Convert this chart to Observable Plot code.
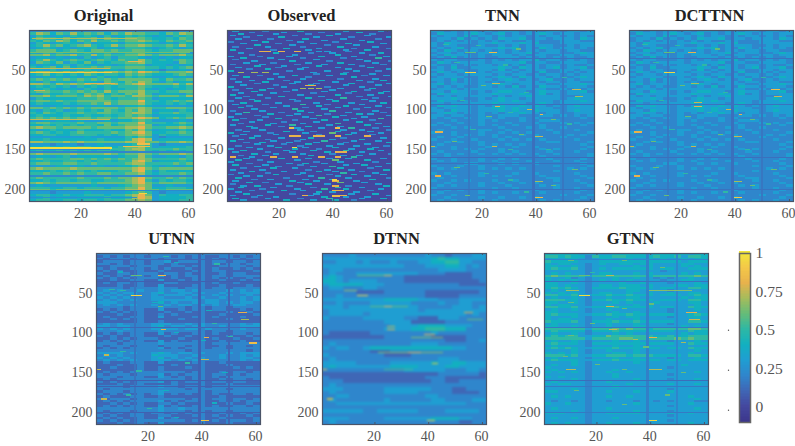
<!DOCTYPE html>
<html><head><meta charset="utf-8">
<script src="https://cdn.jsdelivr.net/npm/d3@7"></script>
<script src="https://cdn.jsdelivr.net/npm/@observablehq/plot@0.6"></script>
<style>html,body{margin:0;background:#fff}#fig{position:relative;width:795px;height:446px;overflow:hidden}#fig svg{position:absolute;background:transparent;overflow:visible}</style>
</head><body><div id="fig"></div>
<script>
const colorStops=[-0.1,0,0.1,0.2,0.3,0.4,0.5,0.6,0.7,0.8,0.9,1];
const colorRange=["#3c378c","#44489f","#3f67b6","#2f86cc","#1f9ed2","#12b0c0","#2eb8a4","#66bc78","#a4bc5c","#e8b24c","#f4c848","#f2e63c"];
const xTicks=[20,40,60], yTicks=[50,100,150,200], barTicks=[0,0.25,0.5,0.75,1];
const strayMarks=[0.5,0.24,-0.02];
const originalGrid=[
"343434334343343434334343","576465756564657665546576","354343545435345454343545","465546455646546665445465",
"546576465755656676546556","354345435344435554434354","457564567545756676556575","345434344534435554345434",
"566645654665655665455666","435354345345345564344353","667566755756556676566675","344343435345355543434344",
"457545654565465575454565","365463546354556675444365","434345354434345553443434","545646455656556665545456",
"343534345434435454323343","677667676767767687656667","456454546545546565444565","334343434353435454334343",
"565656565656566666546556","435344354436546576435344","776576767676756786666757","454545354545455565444545",
"345434435435445564343445","566556565657566675545566","435445546564546575344435","667566657675665776566657",
"354444455565455565344444","566565566666566685545656","454445455657566675445454","333343334343334454333333",
"665656565666656676556665","435453454546546576344354","546545565566556776455655","454445445445456565344445",
"565656566566566787645656","334344343334344565333343","566555565566566685554565","445454545546456676344454",
"676656666566667786556676","434544354445446575344354","565454565555656786445565","445544555545456676354455",
"333333334333335465323333","445444444454445787344444","776667676666667786656676","333233323343334565323333",
"445445455445456675344445","566555656556556775555655","454454545455456675454545","676666766667656676566676",
"344345344444345575334435","565555665656565676555565","445445545455455786344454","566556655655556775555656",
"333344343343344565434334","676666766666666786566666","444545454544455785354444","556556565566556675455565",
"334333343334344465323334","565555565556566786556565","445455455445556785354554","676566666566666786566665",
"343333333433345676334333","555445545554556686445554","666566666666667786656666","333233334333334565323333",
"455445445554556786354455","345344344445445787344445","455445545545556676344455"
];
// each line is two data rows of the Observed panel: column, level, column, level ...
const observedDashes=[
[3,3,14,2,27,4,44,3,57,3],[9,2,21,3,35,2,49,4],[5,4,18,3,30,2,41,3,54,2],[2,3,12,3,25,2,38,4,52,3],
[7,2,20,4,33,3,46,2,60,3],[4,3,16,2,29,4,43,3,56,2],[10,3,23,2,36,3,50,3],[1,2,14,4,27,3,40,2,53,4],
[6,3,19,2,32,3,45,4,58,3],[11,4,24,3,37,2,48,3],[3,2,15,3,28,2,42,4,55,3],[8,3,22,4,34,3,47,2,60,2],
[2,4,17,2,30,3,44,3,52,4],[13,8,15,8,20,8,26,8,34,3,37,3,45,2],[5,3,18,4,31,2,39,3,50,3,57,4],[9,2,25,3,41,4,54,2],
[1,3,12,2,23,3,35,4,47,3,59,3],[6,4,16,3,28,2,43,2,56,5],[3,2,20,3,33,3,49,3],[10,3,24,4,38,2,52,3,61,2],
[7,3,17,2,30,3,42,4,55,3],[2,2,13,3,26,2,36,3,46,3,58,2],[11,4,21,3,34,4,50,2],[4,3,19,2,29,3,41,3,53,4],
[8,2,15,4,27,3,45,3,60,3],[1,4,23,2,37,3,48,3,56,2],[5,7,10,7,14,7,32,3,44,2],[18,3,33,2,43,4,54,3],
[3,3,12,2,25,4,38,3,51,2,59,3],[7,4,20,3,30,2,47,4],[2,2,16,3,28,3,42,2,55,3],[9,3,22,2,35,4,49,3,58,4],
[4,3,14,4,26,3,40,3,53,2],[11,2,24,3,33,2,46,4,60,3],[6,3,18,2,31,4,44,3,56,3],[1,4,21,3,37,2,50,3],
[8,3,16,3,28,7,31,7,34,7,42,3,54,4],[3,2,13,4,25,3,39,3,52,2],[10,4,22,2,36,3,47,4,59,3],[5,3,17,3,32,2,45,2,57,4],
[2,4,12,3,27,3,41,4,53,3],[7,2,20,4,35,3,49,2,61,3],[4,3,15,2,30,4,43,5,55,2],[9,3,24,3,38,3,51,3],
[1,2,11,4,26,2,40,4,54,3],[6,4,19,3,33,3,46,3,58,4],[3,3,14,2,28,5,37,2,50,3],[8,2,22,3,34,4,44,4,56,3],
[5,4,17,3,29,2,41,3,52,3,60,2],[10,3,25,5,36,3,48,2],[2,2,13,3,27,4,39,5,55,3],[7,5,20,2,31,3,45,3,58,2],
[4,3,16,4,26,3,37,2,49,4,53,3],[11,2,23,3,34,5,43,3,60,3],[1,3,14,2,29,3,40,4,51,3],[6,2,19,4,32,3,47,3,57,5],
[3,4,12,3,25,2,36,4,44,3,54,2],[9,3,21,2,33,3,49,4],[5,2,17,3,28,3,41,5,56,3],[2,3,15,4,24,5,38,3,52,4],
[8,4,20,2,30,4,42,3,59,3],[10,3,26,3,35,3,46,5,55,2],[4,2,13,3,27,3,43,3,50,3,60,2],[7,3,22,4,32,2,41,4,53,3],
[1,4,16,2,29,3,39,6,47,3,57,3],[6,3,18,3,34,2,45,4,54,2],[3,2,11,3,24,8,26,8,33,8,35,8,41,8,52,8],[9,4,20,3,31,4,43,2,58,3],
[5,3,15,2,28,3,39,3,50,4],[2,4,17,3,26,2,36,5,47,3,56,3],[7,2,13,4,23,3,33,3,44,2,60,4],[11,3,21,2,30,4,42,3,52,3],
[4,2,16,3,27,2,38,3,48,3,59,2],[8,3,19,4,29,3,40,4,55,3],[1,3,12,3,25,4,34,2,46,3,53,4],[6,4,22,3,32,4,44,5,57,3],
[3,3,15,2,24,3,37,4,41,8,43,8,50,3],[10,4,18,3,28,3,39,2,54,3,61,2],[5,2,14,3,31,4,43,3,49,3],[2,8,9,3,17,8,25,8,35,8,41,8,47,5],
[7,3,20,4,30,3,38,3,45,3,58,3],[4,4,12,2,26,3,40,6,52,4],[1,3,16,3,33,2,42,3,55,2],[8,2,23,3,29,4,36,3,48,3,60,3],
[3,4,14,3,27,2,44,3,51,4],[11,3,19,2,32,3,39,5,56,3],[6,2,17,4,25,3,42,4,53,2],[2,3,13,3,30,2,37,3,46,3,59,4],
[9,4,21,3,34,4,40,3,50,2],[5,3,15,2,28,3,43,5,55,3],[1,2,18,4,26,3,38,2,47,4,58,3],[7,3,12,3,31,3,41,3,52,3],
[4,4,22,2,35,5,45,3,60,2],[10,2,16,3,29,3,39,3,54,4],[3,3,24,4,33,3,40,8,48,3],[8,4,14,2,27,3,42,6,51,3],
[2,2,19,3,30,4,37,3,56,3],[6,3,11,4,23,2,40,8,45,2,59,4],[5,4,17,3,32,2,41,5,50,3],[1,3,13,2,26,3,36,5,44,4,57,3],
[9,2,21,4,28,3,40,8,42,8,53,2],[4,3,16,3,34,4,39,3,48,3],[7,4,24,2,33,3,46,3,55,4],[2,3,12,3,29,8,31,3,41,8,43,8,60,3],
[10,2,18,3,36,4,44,3,52,3],[3,4,15,3,27,2,38,5,50,3,58,4],[6,3,22,4,32,3,40,4,47,2]
];
const tnnGrid=[
"332323323233323323323323","243323432342323343233233","323324233232332323323232","233242323243342332333243",
"232323232323223322233322","324333233433343422233333","323322232232323333223233","232342333343423243233232",
"324323323232323323323322","233232233332334233322343","324333232333232332233233","232423232233323232323223",
"323322232323233423323232","243233332333342332233332","322323233232323323323223","232422333343243323423342",
"332332233242323332233233","243233232333233242232323","323323333232332323323233","233332232343243332322343",
"332423233234323234223233","232323232323333323323322","342333233443233332233343","323232233232423243323332",
"233323333333333332232323","332433232344332343323342","243333233433343342323333","323233333232334333322233",
"333432232343323333323433","243323233343433333233343","332333333433332343233333","243433232343343432323433",
"323333233443433333223333","332433233343433433323433","234323232323343323322333","332332232233322233232323",
"323223233232232322222232","222322232322232233322222","232232232223222322232323","323222232322322232222232",
"222323222232223232232222","232222233223222223222322","322322232232323222322223","222323232322232322223232",
"232232222323222322232222","322322322232323232222322","223232232222222223322223","232222232323232222222232",
"322322223222322322222223","222323232232222232322232","232222322232322223222322","323232232323232322322223",
"223222222222222232222223","322322232232322223222232","232322232322223222322322","222223322232322322222232",
"322232232222222222322223","232322232323232222223232","222222222222222222322222","323222232222322322222322",
"222322232323222232222232","232222222222222223322223","322323222322322222322322","223222232232232322222232",
"232322232223222232322223","322222222322322222322322","223232232222222322222232","232222232322322232222322",
"322322222222222222232223","223222232232232322222232","232322222322222232322322"
];
const dctGrid=tnnGrid;
const utnnGrid=[
"222222222222222222222222","121212212221212211221212","212221222122212212122122","122212212231222212212212",
"221212212212111212122122","112221222112212211222212","212112212121121212112121","121211211211112212211112",
"211221222122121211212211","121212212312122212212222","212121222112112212121121","112112211311212211211212",
"121221211122111212112111","111211211311112211211121","222212222322122212212222","232322322323323222232323",
"323233223422332322322333","232323223233323223232232","323232223322232322322323","232323223333333233222323",
"333222222423223233232332","232323223232332323223322","222212222322212212212222","121212211311212212211212",
"212121211121121211121121","111211211212111211211112","121112211311112212111211","112121211111211211121111",
"111111211211111211111111","232322223332232322222323","332332223423323322322333","323232223333233232222322",
"222322222322222212212222","121212211312112212112212","212112211121121211121121","112121222111211212112112",
"121212211312112211211211","222122222322222212222222","212221222122212211212212","121212222312122212212222",
"222222222222212222222212","333323223432332322232333","232322223333223222322323","323232223423232322322332",
"232323223332323222222323","121112211311112211211111","111211211112111211121111","112111211211121211112121",
"111111211211111211111111","121212222222212211212212","212221222312122212212122","222122211321212212122222",
"121222222222212211212212","212121222312122212212211","111211211112111211121111","222212222322122212222222",
"212222222222212222212222","122212222322222212222222","212121212312121212112212","121112211211111211211111",
"212221222222212212212212","121212222312122211212122","112121211221211211121121","121212211312112212112212",
"222222222322322222222222","212221222322212212212222","121212212212121211211212","212112211221112212121121",
"121211211312111211211112","212121222222212212122212","111211211311111211121111"
];
const dtnnGrid=[
"222232222222222322122233","333333333333333345443333","223332322232223344553322","333333333333222333443232",
"233222222222222223333222","232223333333332222111122","343222222222111111111122","443233332222111111111112",
"344444333222222222221111","233222332222222222222222","222221111222222111111112","223222222222222111112222",
"333333333444443332223333","223222233333322223223322","333233333333332222233323","233333333333332333333333",
"233333233333333333333232","322222333333221113332222","222222222333311111222222","222222222233334444333322",
"222222222333344555444222","211111122222222232222222","111111111222222211111222","222222222222222222111223",
"232222222222233332222222","323322344444444444433222","222222211122222222222222","322222222111122222222222",
"232222222222222223332222","333332222233333343344333","343333333344443333443333","222222222222333333222332",
"111111111111111112222221","211111111111111222111111","222111111111111122112222","232222222222222222222222",
"333222222333333322211222","232222222333332222211112","223322222222222332222222","232222222322222233222233",
"223333333333333333333222","222222222222222222222222","333333223333332222333332","222222222222222222222222",
"333322222333333344443322","232222222222222222221122"
];
const gtnnGrid=[
"444443333344444344444344","554544254455444454453554","343443234433433434334344","544443334444444444443444",
"434433234334434433334433","443343233333343433334343","454453234344444434433444","333333233333333332333333",
"343433234433343433334343","565555355555555455555565","433423233343343323233433","434343234343433332334433",
"443343233334334333233343","443433234434443433344344","454543244445444434433554","343433233333443333233333",
"434343234433433433433443","554453344544544434443454","343343233433443333334344","555443244544544434443554",
"443343233343433343333443","434433233433343433333343","554453344454444434433544","343343233433333333233343",
"443333233343343333233333","454443344544544444433454","433343233343443333233443","434433233433343333333343",
"544453244454454444433554","343333233433343333233333","443343233433344333334343","555555355565655455555665",
"454444244454444444433544","343343233343433333334344","454553344555555544544555","555555355556655555565655",
"343343233343343333233343","454443244444444444433544","343333233343343333333333","454543344454444443443544",
"333343233433343333333343","434343233344343333333433","555453344555455544443554","343333233343343333233343",
"454443344454444443443444","333343233333343333333333","343343233333333333334333","433333233333333333233333",
"343333233343333333333333","434343233433433333333343","333333233343333333233333","434333233343333333333333",
"333343233333343333233343","343333233433333333333333","434433233333433333433343","333333233343333333333333",
"333343233333333333233333","443333233433343333433333","333333233333333333333333","343433233433433333333433",
"333333233333333333333343","323323233233323323233322","433433233333343333333433","333333233333333333233333",
"343333233433333333333343","333343233333343333233333","444333233444443333433433","333333233333333333233333",
"343343233343333333333333","333333233333333333233333","343433233433343333333433"
];
// streaks: data row, first column, last column, value
const originalStreaks=[[147,1,31,1],[148,1,31,0.98],[54,1,31,0.92],[48,1,30,0.75],[29,1,60,0.62],[11,2,40,0.72],[2,1,61,0.25],[153,1,61,0.2],[183,1,61,0.22],[201,1,61,0.22],[210,1,40,0.25],[146,36,45,0.85],[143,41,45,0.85],[76,3,6,0.75],[40,38,42,0.8],[205,42,44,0.95],[112,1,30,0.75],[67,22,32,0.8],[150,1,30,0.2]];
const observedStreaks=[[123,24,25,0.85],[123,41,42,0.85],[147,25,26,0.95],[70,30,33,0.8],[208,40,42,0.85],[188,40,41,0.95]];
const tnnStreaks=[[29,23,25,0.85],[29,14,17,0.6],[54,14,17,0.95],[67,24,26,0.75],[84,55,57,0.7],[96,25,26,0.8],[106,42,42,0.85],[128,3,5,0.8],[134,40,42,0.75],[146,24,25,0.75],[146,1,2,0.75],[210,40,42,0.85],[190,40,42,0.7],[183,3,4,0.8],[36,1,61,0.13],[93,1,61,0.13],[160,1,61,0.12],[167,1,61,0.14],[200,1,61,0.13],[75,54,56,0.75],[100,37,38,0.75]];
const dctStreaks=[[29,23,25,0.8],[29,14,17,0.6],[54,14,17,0.95],[67,24,26,0.7],[84,55,57,0.75],[96,25,27,0.8],[106,42,42,0.8],[128,3,5,0.8],[134,40,42,0.75],[146,24,25,0.75],[146,1,2,0.75],[210,40,42,0.9],[190,40,42,0.7],[183,3,4,0.8],[36,1,61,0.14],[93,1,61,0.14],[160,1,61,0.13],[200,1,61,0.14],[75,54,56,0.85],[100,37,38,0.75],[91,25,27,0.75]];
const utnnStreaks=[[29,24,26,0.85],[29,14,17,0.6],[54,14,17,0.95],[67,24,25,0.6],[84,55,57,0.7],[96,25,26,0.8],[106,41,42,0.8],[128,4,5,0.75],[134,40,42,0.75],[146,1,2,0.75],[210,40,42,0.9],[183,3,4,0.75],[8,1,61,0.1],[36,1,61,0.08],[93,1,61,0.1],[160,1,61,0.07],[167,1,61,0.08],[200,1,61,0.08],[75,54,56,0.8],[113,58,60,0.85]];
const dtnnStreaks=[[29,14,25,0.6],[29,24,26,0.85],[54,14,17,0.95],[47,9,13,0.7],[67,19,32,0.6],[67,24,26,0.85],[96,25,27,0.8],[92,25,27,0.75],[106,34,45,0.65],[102,39,42,0.85],[125,22,45,0.65],[125,33,37,0.85],[146,1,2,0.85],[146,24,34,0.55],[210,40,42,0.95],[75,54,56,0.8],[84,55,60,0.6],[139,42,43,0.85],[183,3,4,0.75]];
const gtnnStreaks=[[29,14,17,0.6],[29,24,26,0.72],[54,14,17,0.98],[47,9,13,0.7],[47,40,55,0.65],[67,24,26,0.78],[96,25,27,0.75],[106,40,42,0.8],[84,55,58,0.75],[146,9,12,0.72],[146,40,44,0.72],[210,40,42,0.95],[8,1,61,0.2],[36,1,61,0.14],[93,1,61,0.16],[160,1,61,0.12],[167,1,61,0.16],[200,1,61,0.16],[75,54,57,0.8]];
// flecks: short bright dashes as row, column, level (flat triples)
const tnnFlecks=[18,6,5,20,18,5,24,33,6,41,10,5,44,28,5,60,50,5,70,20,6,78,36,5,88,12,5,103,30,5,108,22,6,112,46,6,118,52,5,125,16,5,131,34,6,140,9,6,150,30,5,150,44,5,172,10,6,175,54,6,180,21,5,188,30,5,195,46,6,207,14,6,203,36,5];
const utnnFlecks=[5,26,5,12,30,4,14,45,5,24,9,4,46,6,5,47,10,5,62,22,4,72,42,4,88,44,5,100,30,4,105,50,5,110,40,4,124,10,5,128,22,4,138,34,5,148,16,5,150,48,4,172,26,4,178,12,5,188,44,4,195,20,5,206,30,4];
const gtnnFlecks=[10,10,6,10,30,6,18,44,6,25,18,5,62,10,6,64,40,6,70,30,6,88,18,6,103,10,6,104,24,6,108,34,7,112,52,7,118,38,6,130,8,6,140,20,6,146,30,6,150,52,6,172,12,6,178,46,6,190,30,6];
// thin dark columns: column, value
const tnnColumns=[[15,0.16],[39,0.13],[50,0.15]];
const utnnColumns=[[15,0.14],[39,0.08],[50,0.09]];
const gtnnColumns=[[39,0.18],[50,0.2]];
const panels=[
 {title:"Original",grid:originalGrid,streaks:originalStreaks,flecks:[],columns:[],left:29,top:30,titleShift:-8,soft:0.4,under:"#2eb8a4"},
 {title:"Observed",grid:["."],dashes:observedDashes,streaks:observedStreaks,flecks:[],columns:[],left:227,top:30,titleShift:-8,soft:0.3,under:"#44489f"},
 {title:"TNN",grid:tnnGrid,streaks:tnnStreaks,flecks:tnnFlecks,columns:tnnColumns,left:430,top:30,titleShift:-10,soft:0.4,under:"#2f86cc"},
 {title:"DCTTNN",grid:dctGrid,streaks:dctStreaks,flecks:tnnFlecks,columns:tnnColumns,left:629,top:30,titleShift:-2,soft:0.4,under:"#2f86cc"},
 {title:"UTNN",grid:utnnGrid,streaks:utnnStreaks,flecks:utnnFlecks,columns:utnnColumns,left:96,top:253,titleShift:-7,soft:0.4,under:"#3f67b6"},
 {title:"DTNN",grid:dtnnGrid,streaks:dtnnStreaks,flecks:[],columns:[],left:322,top:253,titleShift:-8,soft:1,under:"#2f86cc"},
 {title:"GTNN",grid:gtnnGrid,streaks:gtnnStreaks,flecks:gtnnFlecks,columns:gtnnColumns,left:544,top:253,titleShift:4,soft:0.4,under:"#12b0c0"}
];
const color={type:"linear",domain:colorStops,range:colorRange,interpolate:"rgb"};
const fontStyle={fontFamily:"'Liberation Serif',serif",fontSize:"14px",color:"#555"};
const fig=document.getElementById("fig");
const frameColor="#4a5468";
function toCells(p){
  const cells=[],R=p.grid.length;
  p.grid.forEach((line,r)=>{const C=line.length;[...line].forEach((ch,c)=>{
    cells.push({x1:c*61/C+.5,x2:(c+1)*61/C+.5,y1:r*214/R+.5,y2:(r+1)*214/R+.5,v:ch==="."?0:parseInt(ch,36)/10});
  });});
  p.columns.forEach(([col,v])=>cells.push({x1:col-.5,x2:col+.5,y1:.5,y2:214.5,v}));
  (p.dashes||[]).forEach((line,i)=>{for(let k=0;k<line.length;k+=2){
    const r=i*2+1;cells.push({x1:line[k]-.5,x2:line[k]+2,y1:r-.5,y2:r+1.5,v:line[k+1]/10});
  }});
  for(let k=0;k<p.flecks.length;k+=3){
    cells.push({x1:p.flecks[k+1]-.5,x2:p.flecks[k+1]+1.5,y1:p.flecks[k]-.5,y2:p.flecks[k]+1,v:p.flecks[k+2]/10});
  }
  p.streaks.forEach(([row,c1,c2,v])=>cells.push({x1:c1-.5,x2:c2+.5,y1:row-.5,y2:row+.9,v}));
  return cells;
}
const ml=44,mt=28,mb=26,mr=8,pw=164,ph=171;
panels.forEach(p=>{
  const svg=Plot.plot({width:pw+ml+mr,height:ph+mt+mb,marginLeft:ml,marginRight:mr,marginTop:mt,marginBottom:mb,
    style:fontStyle,color,
    x:{domain:[.5,61.5]},y:{domain:[214.5,.5]},
    marks:[
      Plot.frame({fill:p.under,stroke:"none"}),
      Plot.rect(toCells(p),{x1:"x1",x2:"x2",y1:"y1",y2:"y2",fill:"v",shapeRendering:"crispEdges",clip:true}),
      Plot.axisX({ticks:xTicks,tickSize:0,tickPadding:7,dx:-1,label:null,anchor:"bottom",fill:"#555"}),
      Plot.axisY({ticks:yTicks,tickSize:0,tickPadding:4,label:null,anchor:"left",fill:"#555"}),
      Plot.ruleX(xTicks,{y1:214.5,y2:212,stroke:frameColor}),
      Plot.ruleX(xTicks,{y1:.5,y2:3,stroke:frameColor}),
      Plot.frame({stroke:frameColor,strokeWidth:1.2}),
      Plot.text([p.title],{frameAnchor:"top",dx:p.titleShift,dy:-21,fontWeight:"bold",fontSize:16.5,fill:"#222"})
    ]});
  svg.style.left=(p.left-ml)+"px";svg.style.top=(p.top-mt)+"px";
  const heat=svg.querySelector('g[aria-label="rect"]');
  if(heat) heat.style.filter="blur("+p.soft+"px)";
  fig.appendChild(svg);
});
const barLevels=d3.range(0,111).map(i=>-0.1+i*0.01);
const bar=Plot.plot({width:11+20+50,height:169+10+10,marginLeft:20,marginRight:50,marginTop:10,marginBottom:10,
  style:{...fontStyle,fontSize:"15.5px"},color,
  x:{domain:[0,1],axis:null},y:{domain:[-0.1,1]},
  marks:[
    Plot.rect(barLevels,{x1:0,x2:1,y1:d=>d,y2:d=>d+0.01,fill:d=>d,shapeRendering:"crispEdges"}),
    Plot.axisY({ticks:barTicks,tickFormat:d=>String(d),tickSize:0,tickPadding:5,label:null,anchor:"right",fill:"#555"}),
    Plot.frame({stroke:"#666",strokeWidth:1.5}),
    Plot.dot(strayMarks,{x:()=>-1,y:d=>d,r:0.7,fill:"#555",clip:false})
  ]});
bar.style.left=(739-20)+"px";bar.style.top=(253-10)+"px";
fig.appendChild(bar);
</script></body></html>
